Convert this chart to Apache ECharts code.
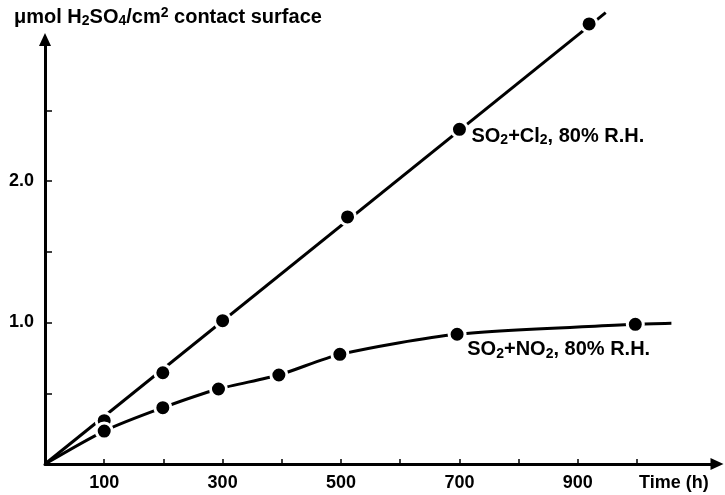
<!DOCTYPE html>
<html>
<head>
<meta charset="utf-8">
<script src="https://cdn.jsdelivr.net/npm/echarts@6/dist/echarts.min.js"></script>
<style>
  html, body { margin: 0; padding: 0; background: #fff; }
  #chart { width: 725px; height: 495px; }
</style>
</head>
<body>
<div id="chart"></div>
<script>
// Axis ticks and labels
const xTickValues = [100, 200, 300, 400, 500, 600, 700, 800, 900, 1000];
const xLabelValues = [100, 300, 500, 700, 900];
const yTickValues = [0.5, 1.0, 1.5, 2.0, 2.5];
const yLabelValues = [1.0, 2.0];

// SO2 + Cl2 at 80% R.H.: measured points and the straight fitted line
const cl2Hours = [100, 199, 300, 511, 700, 919];
const cl2Acid = [0.306, 0.645, 1.013, 1.746, 2.365, 3.11];
const cl2LineHours = [0, 947];
const cl2LineAcid = [0, 3.19];

// SO2 + NO2 at 80% R.H.: measured points and the curve drawn through them
const no2Hours = [100, 199, 293, 395, 498, 696, 997];
const no2Acid = [0.233, 0.398, 0.53, 0.629, 0.775, 0.917, 0.987];
const no2CurveHours = [0, 100, 199, 293, 395, 498, 696, 997, 1058];
const no2CurveAcid = [0, 0.233, 0.398, 0.53, 0.629, 0.775, 0.917, 0.987, 0.994];

const FONT = 'Liberation Sans';
const pairs = (xs, ys) => xs.map((x, i) => [x, ys[i]]);

const richStyles = {
  m:   { fontFamily: FONT, fontWeight: 'bold', fontSize: 20, lineHeight: 22, color: '#000' },
  sub: { fontFamily: FONT, fontWeight: 'bold', fontSize: 14, lineHeight: 9, verticalAlign: 'bottom', color: '#000' },
  sup: { fontFamily: FONT, fontWeight: 'bold', fontSize: 14, lineHeight: 12, verticalAlign: 'top', color: '#000' }
};

const cl2Text = '{m|SO}{sub|2}{m|+Cl}{sub|2}{m|, 80% R.H.}';
const no2Text = '{m|SO}{sub|2}{m|+NO}{sub|2}{m|, 80% R.H.}';

function markerData(xs, ys, labelIndex, text, pos) {
  return pairs(xs, ys).map((p, i) => {
    if (i !== labelIndex) return p;
    return {
      value: p,
      label: {
        show: true,
        position: pos,
        align: 'left',
        verticalAlign: 'middle',
        color: '#000',
        formatter: text,
        rich: richStyles
      }
    };
  });
}

const markerStyle = {
  color: '#000',
  opacity: 1,
  borderColor: '#fff',
  borderWidth: 3
};

const chart = echarts.init(document.getElementById('chart'), null, { renderer: 'canvas' });

chart.setOption({
  animation: false,
  backgroundColor: '#fff',
  grid: { left: 45, right: 8, top: 39.5, bottom: 31, containLabel: false },
  title: {
    text: '{m|μmol H}{sub|2}{m|SO}{sub|4}{m|/cm}{sup|2}{m| contact surface}',
    left: 14,
    top: 6,
    padding: 0,
    textStyle: { rich: richStyles }
  },
  graphic: [{
    type: 'text',
    left: 639,
    top: 474,
    style: { text: 'Time (h)', font: 'bold 18px "Liberation Sans"', fill: '#000' }
  }],
  xAxis: {
    type: 'value',
    min: 0,
    max: 1135,
    axisLine: {
      show: true,
      lineStyle: { color: '#000', width: 3 },
      symbol: ['none', 'triangle'],
      symbolSize: [12, 13]
    },
    axisTick: {
      show: true,
      inside: true,
      length: 5,
      customValues: xTickValues,
      lineStyle: { color: '#000', width: 1.5 }
    },
    axisLabel: {
      customValues: xLabelValues,
      margin: 10,
      color: '#000',
      fontFamily: FONT,
      fontWeight: 'bold',
      fontSize: 18
    },
    splitLine: { show: false }
  },
  yAxis: {
    type: 'value',
    min: 0,
    max: 3.0,
    axisLine: {
      show: true,
      lineStyle: { color: '#000', width: 3 },
      symbol: ['none', 'triangle'],
      symbolSize: [12, 13]
    },
    axisTick: {
      show: true,
      inside: true,
      length: 7,
      customValues: yTickValues,
      lineStyle: { color: '#000', width: 1.5 }
    },
    axisLabel: {
      customValues: yLabelValues,
      margin: 11,
      color: '#000',
      fontFamily: FONT,
      fontWeight: 'bold',
      fontSize: 18,
      formatter: v => v.toFixed(1)
    },
    splitLine: { show: false }
  },
  series: [
    {
      name: 'SO2+Cl2 line',
      type: 'line',
      data: pairs(cl2LineHours, cl2LineAcid),
      showSymbol: false,
      clip: false,
      lineStyle: { color: '#000', width: 3 },
      z: 2
    },
    {
      name: 'SO2+NO2 curve',
      type: 'line',
      data: pairs(no2CurveHours, no2CurveAcid),
      smooth: 0.25,
      showSymbol: false,
      clip: false,
      lineStyle: { color: '#000', width: 3 },
      z: 2
    },
    {
      name: 'SO2+Cl2',
      type: 'scatter',
      data: markerData(cl2Hours, cl2Acid, 4, cl2Text, [21.5, 16.7]),
      symbol: 'circle',
      symbolSize: 16,
      clip: false,
      itemStyle: markerStyle,
      emphasis: { disabled: true },
      z: 3
    },
    {
      name: 'SO2+NO2',
      type: 'scatter',
      data: markerData(no2Hours, no2Acid, 5, no2Text, [19.7, 25.2]),
      symbol: 'circle',
      symbolSize: 16,
      clip: false,
      itemStyle: markerStyle,
      emphasis: { disabled: true },
      z: 3
    }
  ]
});
</script>
</body>
</html>
